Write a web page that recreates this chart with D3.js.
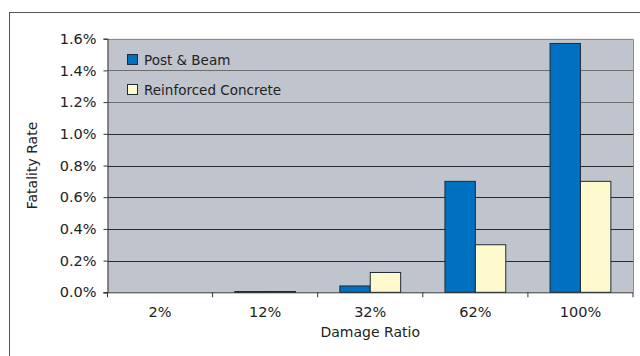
<!DOCTYPE html>
<html>
<head>
<meta charset="utf-8">
<script src="https://cdn.jsdelivr.net/npm/d3@7/dist/d3.min.js"></script>
<style>
  html, body { margin: 0; padding: 0; background: #fff; }
  svg { display: block; font-family: "DejaVu Sans", Verdana, sans-serif; }
</style>
</head>
<body>
<svg id="chart" width="640" height="356"></svg>
<script>
// Fatality rate by damage ratio for two building types
const categories = ["2%", "12%", "32%", "62%", "100%"];
const seriesNames = ["Post & Beam", "Reinforced Concrete"];
const postBeam = [0, 0.00005, 0.0004, 0.007, 0.0157];
const reinforced = [0, 0.00005, 0.00125, 0.003, 0.007];
const yTicks = [0, 0.002, 0.004, 0.006, 0.008, 0.010, 0.012, 0.014, 0.016];
const colors = ["#0070C0", "#FFFACD"];

const svg = d3.select("#chart");
const plot = { left: 107.5, top: 38.7, right: 633, bottom: 292.3 };

// outer chart border
svg.append("rect")
  .attr("x", 9.5).attr("y", 12.5)
  .attr("width", 660).attr("height", 400)
  .attr("fill", "#fff").attr("stroke", "#555").attr("stroke-width", 1);

const x0 = d3.scaleBand().domain(categories)
  .range([plot.left, plot.right]).paddingInner(0.4215).paddingOuter(0.21075);
const x1 = d3.scaleBand().domain(seriesNames).range([0, x0.bandwidth()]);
const y = d3.scaleLinear().domain([0, 0.016]).range([plot.bottom, plot.top]);

// plot area background
svg.append("rect")
  .attr("x", plot.left).attr("y", plot.top)
  .attr("width", plot.right - plot.left).attr("height", plot.bottom - plot.top)
  .attr("fill", "#C0C4CC");

// gridlines
svg.append("g").selectAll("line").data(yTicks.slice(1, -1)).join("line")
  .attr("x1", plot.left).attr("x2", plot.right)
  .attr("y1", d => Math.round(y(d)) + 0.5).attr("y2", d => Math.round(y(d)) + 0.5)
  .attr("stroke", d => d >= 0.012 ? "#6e6e6e" : "#2a2a2a").attr("stroke-width", 1);

// plot frame top and right
svg.append("path")
  .attr("d", `M${plot.left},${Math.round(plot.top) + 0.5}H${plot.right + 0.5}V${plot.bottom}`)
  .attr("fill", "none").attr("stroke", "#8a8a8a").attr("stroke-width", 1);

// bars
const rows = categories.map((c, i) => ({ cat: c, vals: [postBeam[i], reinforced[i]] }));
const groups = svg.append("g").selectAll("g").data(rows).join("g")
  .attr("transform", d => `translate(${x0(d.cat)},0)`);
groups.selectAll("rect")
  .data(d => d.vals.map((v, j) => ({ v, s: seriesNames[j], j })).filter(d => d.v > 0))
  .join("rect")
  .attr("x", d => x1(d.s))
  .attr("y", d => y(d.v))
  .attr("width", x1.bandwidth())
  .attr("height", d => y(0) - y(d.v))
  .attr("fill", d => colors[d.j])
  .attr("stroke", "#1e2a38").attr("stroke-width", 1);

// y axis
const yAxis = d3.axisLeft(y).tickValues(yTicks).tickSize(4).tickPadding(7)
  .tickFormat(d3.format(".1%"));
const gy = svg.append("g").attr("transform", `translate(${plot.left},0)`).call(yAxis);
gy.select(".domain").attr("stroke", "#333");
gy.selectAll(".tick line").attr("stroke", "#333");
gy.selectAll("text").attr("font-size", 14.5).attr("fill", "#222")
  .attr("font-family", "DejaVu Sans, sans-serif");

// x axis: ticks at category boundaries
const gx = svg.append("g").attr("transform", `translate(0,${plot.bottom})`);
gx.append("line").attr("x1", plot.left - 4).attr("x2", plot.right)
  .attr("y1", 0.5).attr("y2", 0.5).attr("stroke", "#333");
const step = x0.step();
const bounds = d3.range(categories.length + 1).map(i => plot.left + i * step);
gx.selectAll(".tk").data(bounds).join("line").attr("class", "tk")
  .attr("x1", d => d).attr("x2", d => d).attr("y1", 0).attr("y2", 5)
  .attr("stroke", "#333");
gx.selectAll(".lbl").data(categories).join("text").attr("class", "lbl")
  .attr("x", d => x0(d) + x0.bandwidth() / 2).attr("y", 24.5)
  .attr("text-anchor", "middle").attr("font-size", 14.5).attr("fill", "#222")
  .text(d => d);

// axis titles
svg.append("text").attr("x", (plot.left + plot.right) / 2).attr("y", 336.5)
  .attr("text-anchor", "middle").attr("font-size", 14).attr("fill", "#222")
  .text("Damage Ratio");
svg.append("text")
  .attr("transform", `translate(36.5,${(plot.top + plot.bottom) / 2}) rotate(-90)`)
  .attr("text-anchor", "middle").attr("font-size", 14).attr("fill", "#222")
  .text("Fatality Rate");

// legend
const lg = svg.append("g");
seriesNames.forEach((s, i) => {
  const yy = 54 + i * 30;
  lg.append("rect").attr("x", 127.5).attr("y", yy + 0.5).attr("width", 10).attr("height", 10)
    .attr("fill", colors[i]).attr("stroke", "#1e2a38");
  lg.append("text").attr("x", 144).attr("y", yy + 10.5)
    .attr("font-size", 13.5).attr("fill", "#222").text(s);
});
</script>
</body>
</html>
